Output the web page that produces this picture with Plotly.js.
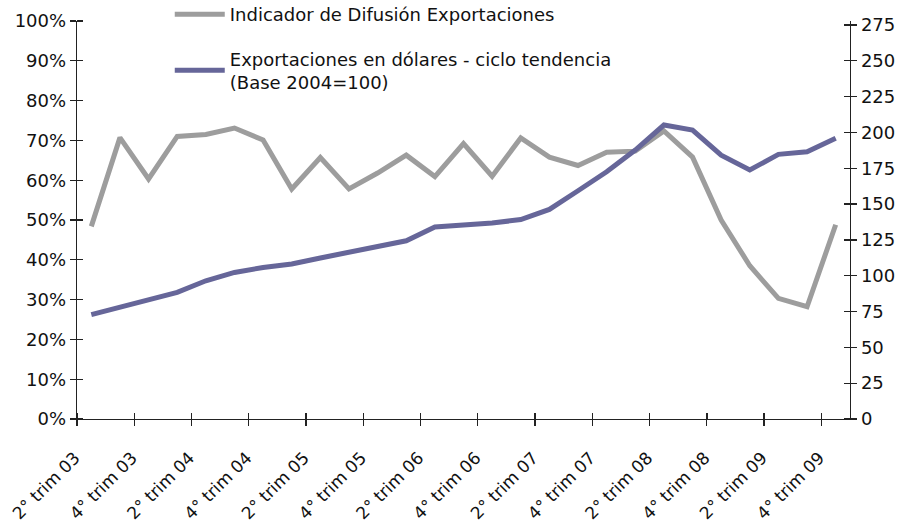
<!DOCTYPE html>
<html>
<head>
<meta charset="utf-8">
<script src="https://cdn.plot.ly/plotly-3.0.1.min.js"></script>
<style>html,body{margin:0;padding:0;background:#fff}#chart{width:903px;height:526px}</style>
</head>
<body>
<div id="chart"></div>
<script>
// Quarters 2° trim 2003 .. 4° trim 2009
const categories = [
  "2° trim 03","3° trim 03","4° trim 03",
  "1° trim 04","2° trim 04","3° trim 04","4° trim 04",
  "1° trim 05","2° trim 05","3° trim 05","4° trim 05",
  "1° trim 06","2° trim 06","3° trim 06","4° trim 06",
  "1° trim 07","2° trim 07","3° trim 07","4° trim 07",
  "1° trim 08","2° trim 08","3° trim 08","4° trim 08",
  "1° trim 09","2° trim 09","3° trim 09","4° trim 09"
];
// Indicador de Difusión Exportaciones (%), left axis
const difusion = [
  48.4, 70.7, 60.3,
  71.0, 71.5, 73.1, 70.1,
  57.8, 65.7, 57.8, 61.8,
  66.3, 60.9, 69.2, 61.0,
  70.6, 65.8, 63.7, 67.0,
  67.3, 72.4, 65.8, 50.0,
  38.5, 30.3, 28.2, 48.8
];
// Exportaciones en dólares - ciclo tendencia (Base 2004=100), right axis
const exportaciones = [
  72.8, 78.2, 82.8,
  88.4, 96.5, 102.3, 105.8,
  108.2, 112.4, 116.3, 120.9,
  124.4, 134.0, 135.5, 136.8,
  139.2, 146.3, 159.3, 172.6,
  187.7, 205.2, 201.7, 184.2,
  173.8, 184.7, 186.5, 195.9
];
const seriesNames = [
  "Indicador de Difusión Exportaciones",
  "Exportaciones en dólares - ciclo tendencia<br>(Base 2004=100)"
];
const labelStep = 2;

const idx = categories.map((_, i) => i);
// tick marks sit on the category boundaries, one every labelStep categories,
// each carrying the name of the category that follows it
const boundaryVals = [];
const boundaryText = [];
for (let i = 0; i < categories.length; i += labelStep) {
  boundaryVals.push(i - 0.5);
  boundaryText.push(categories[i]);
}
const xr = [-0.5, categories.length - 0.5];

const FONT = "DejaVu Sans, Verdana, sans-serif";
const FS = 18;
const AX = "#222";
const EPS = 1e-3;

const traces = [
  {x: idx, y: difusion, type: "scatter", mode: "lines", name: seriesNames[0],
   line: {color: "#9d9d9d", width: 5}, xaxis: "x", yaxis: "y", legendgroup: "a"},
  {x: idx, y: exportaciones, type: "scatter", mode: "lines", name: seriesNames[1],
   line: {color: "#666699", width: 5}, xaxis: "x", yaxis: "y2", legendgroup: "b"}
];

const tickStyle = {ticklen: 6, tickcolor: AX, tickwidth: 1.3};

const layout = {
  width: 903, height: 526,
  margin: {l: 77, r: 53, t: 21, b: 107, autoexpand: false},
  paper_bgcolor: "#fff", plot_bgcolor: "#fff",
  font: {family: FONT, size: FS, color: "#111"},
  showlegend: true,
  legend: {x: 0.12, xanchor: "left", y: 1.063, yanchor: "top", bgcolor: "rgba(0,0,0,0)",
           font: {family: FONT, size: FS, color: "#111"}, tracegroupgap: 18, itemwidth: 50,
           traceorder: "grouped"},
  xaxis: Object.assign({type: "linear", range: xr, tickmode: "array", tickvals: boundaryVals, ticktext: boundaryText,
          ticks: "outside", showgrid: false, zeroline: false, showline: true, linecolor: AX, linewidth: 1.3,
          tickangle: -45, tickfont: {family: FONT, size: 17}, ticklabelstandoff: 15, ticklabelshift: -2,
          automargin: false,
          minor: Object.assign({tickmode: "linear", tick0: -0.5 + EPS, dtick: labelStep, ticks: "inside", showgrid: false}, tickStyle),
          fixedrange: true}, tickStyle),
  yaxis: Object.assign({range: [0, 100], dtick: 10, ticksuffix: "%", ticks: "outside",
          showgrid: false, zeroline: false, showline: true, linecolor: AX, linewidth: 1.3,
          tickfont: {family: FONT, size: FS}, automargin: false,
          minor: Object.assign({tickmode: "linear", tick0: EPS, dtick: 10, ticks: "inside", showgrid: false}, tickStyle),
          fixedrange: true}, tickStyle),
  yaxis2: Object.assign({overlaying: "y", anchor: "x", side: "right", range: [0, 277.8], dtick: 25, ticks: "outside",
          showgrid: false, zeroline: false, showline: true, linecolor: AX, linewidth: 1.3,
          tickfont: {family: FONT, size: FS}, automargin: false,
          minor: Object.assign({tickmode: "linear", tick0: EPS, dtick: 25, ticks: "inside", showgrid: false}, tickStyle),
          fixedrange: true}, tickStyle)
};

Plotly.newPlot("chart", traces, layout, {displayModeBar: false, staticPlot: true});
</script>
</body>
</html>
